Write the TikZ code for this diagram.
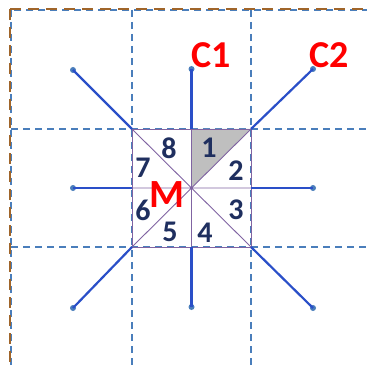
\documentclass[tikz,border=0pt]{standalone}
\usepackage{fontspec}
\setmainfont{Carlito}
\definecolor{gridblue}{HTML}{4A7EBB}
\definecolor{brownd}{HTML}{A0652A}
\definecolor{linkblue}{HTML}{2A4FC8}
\definecolor{sqpurple}{HTML}{8064A2}
\definecolor{navy}{HTML}{1F2F5F}
\begin{document}
\begin{tikzpicture}[x=1pt,y=-1pt,
  griddash/.style={draw=gridblue,line width=1.4pt,dash pattern=on 7pt off 5pt},
  borderdash/.style={draw=brownd,line width=2.4pt,dash pattern=on 11pt off 7pt},
  link/.style={draw=linkblue,line width=2.2pt},
  sq/.style={draw=sqpurple,line width=0.9pt},
  dot/.style={circle,fill=gridblue,inner sep=0pt,minimum size=6pt},
  num/.style={text=navy,font=\bfseries\fontsize{30}{30}\selectfont,inner sep=0pt},
  lab/.style={text=red,font=\bfseries\fontsize{38}{38}\selectfont,inner sep=0pt}]
\useasboundingbox (0,0) rectangle (366,366);
% grid
\draw[griddash] (11,10) rectangle (370,370);
\draw[griddash] (132,10) -- (132,366);
\draw[griddash] (251,10) -- (251,366);
\draw[griddash] (11,129) -- (366,129);
\draw[griddash] (11,247) -- (366,247);
\draw[borderdash] (10,9) -- (370,9);
\draw[borderdash] (10,9) -- (10,370);
% square corners
\coordinate (TL) at (132,129);
\coordinate (TR) at (251,129);
\coordinate (BR) at (251,247);
\coordinate (BL) at (132,247);
\coordinate (T) at (191.5,129);
\coordinate (B) at (191.5,247);
\coordinate (L) at (132,188);
\coordinate (R) at (251,188);
\coordinate (C) at (191.5,188);
\fill[gray!50] (C) -- (T) -- (TR) -- cycle;
\draw[sq] (TL) rectangle (BR);
\draw[sq] (T) -- (B) (L) -- (R) (TL) -- (BR) (TR) -- (BL);
% outer dots
\node[dot] (pTL) at (73,70) {};
\node[dot] (pT) at (191.5,69) {};
\node[dot] (pTR) at (313,69) {};
\node[dot] (pR) at (313,188) {};
\node[dot] (pBR) at (313,308) {};
\node[dot] (pB) at (191.5,307) {};
\node[dot] (pBL) at (73,308) {};
\node[dot] (pL) at (73,188) {};
\draw[link] (TL) -- (pTL.center);
\draw[link] (T) -- (pT.center);
\draw[link] (TR) -- (pTR.center);
\draw[link] (R) -- (pR.center);
\draw[link] (BR) -- (pBR.center);
\draw[link] (B) -- (pB.center);
\draw[link] (BL) -- (pBL.center);
\draw[link] (L) -- (pL.center);
% numbers
\node[num] (n1) at (209,148) {1};
\node[num] (n2) at (236,171) {2};
\node[num] (n3) at (236,210) {3};
\node[num] (n4) at (205,233) {4};
\node[num] (n5) at (170,232) {5};
\node[num] (n6) at (143,210) {6};
\node[num] (n7) at (143,168) {7};
\node[num] (n8) at (169,148) {8};
% labels
\node[lab] (c1) at (211.5,55) {C1};
\node[lab] (c2) at (329,55) {C2};
\node[lab,font=\bfseries\fontsize{40}{40}\selectfont] (m) at (167,195) {M};
\end{tikzpicture}
\end{document}
